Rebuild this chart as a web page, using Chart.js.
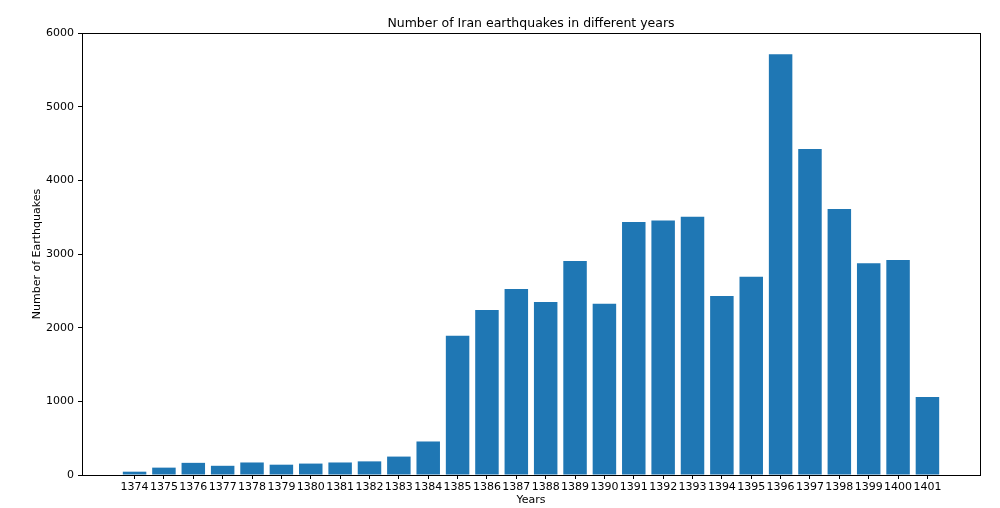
<!DOCTYPE html>
<html>
<head>
<meta charset="utf-8">
<title>Number of Iran earthquakes in different years</title>
<script src="https://cdn.jsdelivr.net/npm/chart.js@4"></script>
<style>
  body { margin: 0; background: #fff; }
  canvas { display: block; }
</style>
</head>
<body>
<canvas id="quakeChart" width="1000" height="508"></canvas>
<script>
// years (Solar Hijri) and quake counts
const years = ['1374', '1375', '1376', '1377', '1378', '1379', '1380', '1381', '1382', '1383',
    '1384', '1385', '1386', '1387', '1388', '1389', '1390', '1391', '1392', '1393',
    '1394', '1395', '1396', '1397', '1398', '1399', '1400', '1401'];
const quakes = [45, 100, 165, 125, 170, 140, 155, 170, 185, 250,
    455, 1890, 2240, 2525, 2350, 2905, 2325, 3435, 3455, 3505,
    2430, 2690, 5710, 4425, 3610, 2875, 2920, 1060];
const yTicks = [0, 1000, 2000, 3000, 4000, 5000, 6000];

// matplotlib-style x margins: 0.05 of the bar span
const span = (years.length - 1) + 0.8;
const xMin = -0.4 - span * 0.05;
const xMax = years.length - 1 + 0.4 + span * 0.05;

const font = { family: 'DejaVu Sans', size: 11 };

// box round the plot area, like the matplotlib spines
const frame = {
    id: 'frame',
    afterDraw(chart) {
        const { ctx, chartArea: a } = chart;
        ctx.save();
        ctx.strokeStyle = '#000';
        ctx.lineWidth = 1;
        ctx.strokeRect(Math.round(a.left) + 0.5, Math.round(a.top) + 0.5,
            Math.round(a.right - a.left), Math.round(a.bottom - a.top));
        ctx.restore();
    }
};

const ctx = document.getElementById('quakeChart').getContext('2d');
const quakeChart = new Chart(ctx, {
    type: 'bar',
    data: {
        datasets: [{
            label: 'Earthquakes',
            data: quakes.map((v, i) => ({ x: i, y: v })),
            backgroundColor: '#1f77b4',
            borderWidth: 0,
            barPercentage: 0.8,
            categoryPercentage: 1
        }]
    },
    options: {
        responsive: false,
        animation: false,
        layout: { padding: { top: 0, right: 20, bottom: 0, left: 0 } },
        plugins: {
            legend: { display: false },
            tooltip: { enabled: false }
        },
        scales: {
            x: {
                type: 'linear',
                offset: false,
                min: xMin,
                max: xMax,
                afterBuildTicks: (scale) => {
                    scale.ticks = years.map((_, i) => ({ value: i }));
                },
                afterFit: (scale) => { scale.height = 33; },
                grid: { drawOnChartArea: false, drawTicks: true, tickLength: 4, color: '#000', offset: false },
                border: { display: true, color: '#000' },
                ticks: {
                    color: '#000',
                    font: font,
                    padding: 2,
                    autoSkip: false,
                    maxRotation: 0,
                    callback: (v) => years[v]
                },
                title: {
                    display: true,
                    text: 'Years',
                    color: '#000',
                    font: font,
                    padding: { top: 0, bottom: 1 }
                }
            },
            // top axis only carries the title, centred over the plot like matplotlib
            xTop: {
                type: 'linear',
                position: 'top',
                offset: false,
                min: xMin,
                max: xMax,
                afterFit: (scale) => { scale.height = 33; },
                grid: { display: false },
                border: { display: false },
                ticks: { display: false },
                title: {
                    display: true,
                    text: 'Number of Iran earthquakes in different years',
                    color: '#000',
                    font: { family: 'DejaVu Sans', size: 12.5 },
                    padding: { top: 16, bottom: 0 }
                }
            },
            y: {
                min: 0,
                max: 6000,
                afterBuildTicks: (scale) => {
                    scale.ticks = yTicks.map(v => ({ value: v }));
                },
                afterFit: (scale) => { scale.width = 82; },
                grid: { drawOnChartArea: false, drawTicks: true, tickLength: 4, color: '#000' },
                border: { display: true, color: '#000' },
                ticks: { color: '#000', font: font, padding: 4, callback: (v) => String(v) },
                title: {
                    display: true,
                    text: 'Number of Earthquakes',
                    color: '#000',
                    font: font,
                    padding: { top: 31, bottom: 0 }
                }
            }
        }
    },
    plugins: [frame]
});
</script>
</body>
</html>
